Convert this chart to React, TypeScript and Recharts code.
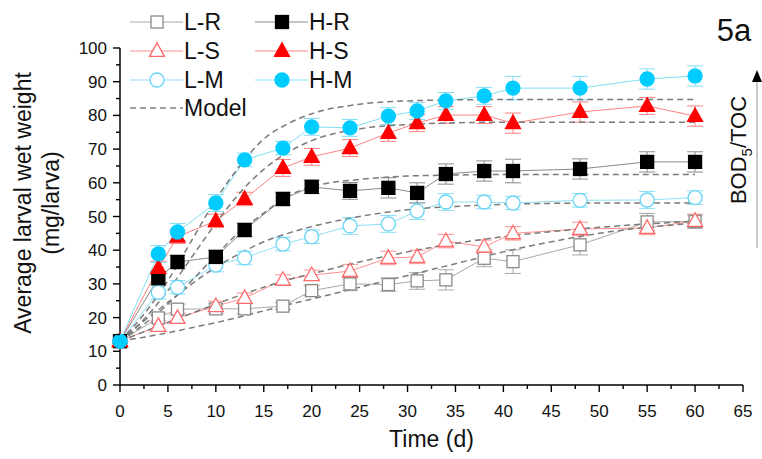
import React from 'react';
import { LineChart, Line, XAxis, YAxis, ErrorBar } from 'recharts';

// sampling days
const days = [0, 4, 6, 10, 13, 17, 20, 24, 28, 31, 34, 38, 41, 48, 55, 60];

// mean larval wet weight (mg/larva)
const lrValues = [13, 19.9, 22.5, 22.6, 22.6, 23.4, 28, 30, 29.8, 30.9, 31.2, 37.6, 36.6, 41.6, 48.4, 48.5];
const lsValues = [13, 17.5, 19.9, 23.4, 25.8, 31.2, 32.6, 33.8, 37.7, 38, 42.7, 41, 45, 46.3, 46.6, 48.7];
const lmValues = [13, 27.5, 29, 35.6, 37.7, 41.8, 44, 47.2, 47.8, 51.6, 54.3, 54.3, 54, 54.8, 54.9, 55.6];
const hrValues = [13, 31.7, 36.5, 38, 46, 55.2, 58.8, 57.6, 58.5, 57, 62.6, 63.5, 63.5, 64.1, 66.2, 66.2];
const hsValues = [13, 34.7, 44, 48.7, 55.2, 64.4, 67.7, 70.3, 74.8, 77.7, 80.1, 80.1, 77.7, 81, 82.8, 79.8];
const hmValues = [13, 38.9, 45.4, 54, 66.8, 70.3, 76.6, 76.3, 79.8, 81.3, 84.3, 85.8, 88.1, 88.1, 90.8, 91.7];

// standard deviations
const lrErr = [0.5, 1.5, 1.5, 1.5, 1.5, 1, 1.5, 2, 2, 2.5, 3, 2.5, 3.5, 3, 2.5, 2];
const lsErr = [0.5, 1.5, 1.5, 1.5, 1.5, 1.5, 1.5, 2, 2, 2, 2, 2, 2, 2, 2, 2];
const lmErr = [0.5, 2, 2, 2, 2, 2, 2, 2.5, 2.5, 2.5, 2.5, 2, 2, 2, 2.5, 2];
const hrErr = [0.5, 2, 2, 2, 2, 2, 2, 2.5, 3, 3, 3, 3, 3.5, 3, 3, 3];
const hsErr = [0.5, 2, 2, 2, 2, 2.5, 2.5, 2.5, 2.5, 2.5, 2.5, 2.5, 3, 3, 2.5, 3];
const hmErr = [0.5, 2.5, 2.5, 2.5, 2, 2, 2.5, 2.5, 2.5, 2.5, 2.5, 2.5, 3.5, 3.5, 3, 3];

// fitted growth model curves
const modelDays = [0, 2.5, 5, 7.5, 10, 12.5, 15, 17.5, 20, 25, 30, 35, 40, 45, 50, 55, 60];
const hmModel = [13, 21, 31, 43, 55, 65, 73, 77.5, 80.5, 83.3, 84.3, 84.6, 84.7, 84.7, 84.7, 84.7, 84.7];
const hsModel = [13, 19.5, 28, 38, 48, 57, 64, 69, 72.5, 76, 77.3, 77.8, 78, 78, 78, 78, 78];
const hrModel = [13, 18, 24, 31, 38.5, 45.5, 51, 56, 58.8, 61, 62, 62.3, 62.5, 62.5, 62.5, 62.5, 62.5];
const lmModel = [13, 19, 24.5, 30, 35, 39, 42.5, 45, 47, 50, 52, 53, 53.6, 53.9, 54, 54, 54];
const lsModel = [13, 15.8, 18.5, 21.3, 24, 26.6, 29, 31.2, 33, 36.5, 39.5, 42, 44, 45.5, 46.8, 47.8, 48.6];
const lrModel = [13, 14.2, 15.5, 17, 18.5, 20.2, 22, 23.8, 25.5, 29, 32.5, 36, 39.5, 42.5, 45, 46.8, 48];

const xTicks = Array.from({ length: 27 }, (_, i) => i * 2.5);
const yTicks = Array.from({ length: 21 }, (_, i) => i * 5);

const W = 762;
const H = 459;
const Y_AXIS_W = 60;
const MARGIN = { top: 48, right: 19, bottom: 34, left: 60 };
const PLOT_LEFT = MARGIN.left + Y_AXIS_W;
const PLOT_BOTTOM = H - MARGIN.bottom - 40;
const FONT = '"Liberation Sans", Arial, sans-serif';

const toRows = (xs: number[], ys: number[], es?: number[]) =>
  xs.map((t, i) => ({ t, v: ys[i], e: es ? es[i] : 0 }));

type Shape = 'square' | 'triangle' | 'circle';

const Marker = ({ shape, x, y, stroke, fill, s }: { shape: Shape; x: number; y: number; stroke: string; fill: string; s: number }) => {
  if (shape === 'square')
    return <rect x={x - s / 2} y={y - s / 2} width={s} height={s} fill={fill} stroke={stroke} strokeWidth={1.3} />;
  if (shape === 'triangle') {
    const h = s * 0.9;
    return (
      <polygon
        points={`${x},${y - h * 0.6} ${x - s / 2},${y + h * 0.4} ${x + s / 2},${y + h * 0.4}`}
        fill={fill}
        stroke={stroke}
        strokeWidth={1.3}
      />
    );
  }
  return <circle cx={x} cy={y} r={s / 2} fill={fill} stroke={stroke} strokeWidth={1.3} />;
};

const makeDot = (shape: Shape, stroke: string, fill: string, s: number) => (props: any) => {
  const { cx, cy, index } = props;
  if (cx == null || cy == null) return <g key={`d-${index}`} />;
  return (
    <g key={`d-${index}`}>
      <Marker shape={shape} x={cx} y={cy} stroke={stroke} fill={fill} s={s} />
    </g>
  );
};

const XTick = (props: any) => {
  const { x, payload } = props;
  const v = payload.value as number;
  const major = v % 5 === 0;
  return (
    <g>
      <line x1={x} x2={x} y1={PLOT_BOTTOM} y2={PLOT_BOTTOM + (major ? 7 : 4)} stroke="#000" strokeWidth={1.4} />
      {major && (
        <text x={x} y={PLOT_BOTTOM + 32} textAnchor="middle" fontSize={17} fill="#111" fontFamily={FONT}>
          {v}
        </text>
      )}
    </g>
  );
};

const YTick = (props: any) => {
  const { y, payload } = props;
  const v = payload.value as number;
  const major = v % 10 === 0;
  return (
    <g>
      <line x1={PLOT_LEFT - (major ? 7 : 4)} x2={PLOT_LEFT} y1={y} y2={y} stroke="#000" strokeWidth={1.4} />
      {major && (
        <text x={PLOT_LEFT - 13} y={y + 6} textAnchor="end" fontSize={17} fill="#111" fontFamily={FONT}>
          {v}
        </text>
      )}
    </g>
  );
};

const series = [
  { name: 'L-R', values: lrValues, err: lrErr, shape: 'square' as Shape, stroke: '#8a8a8a', fill: '#fff', line: '#a8a8a8', s: 12 },
  { name: 'L-S', values: lsValues, err: lsErr, shape: 'triangle' as Shape, stroke: '#ff6a6a', fill: '#fff', line: '#ff8f8f', s: 15 },
  { name: 'L-M', values: lmValues, err: lmErr, shape: 'circle' as Shape, stroke: '#66d4f5', fill: '#fff', line: '#8ddff7', s: 14 },
  { name: 'H-R', values: hrValues, err: hrErr, shape: 'square' as Shape, stroke: '#000', fill: '#000', line: '#8a8a8a', s: 13 },
  { name: 'H-S', values: hsValues, err: hsErr, shape: 'triangle' as Shape, stroke: '#ff0000', fill: '#ff0000', line: '#ff8080', s: 15 },
  { name: 'H-M', values: hmValues, err: hmErr, shape: 'circle' as Shape, stroke: '#00ccff', fill: '#00ccff', line: '#80dff7', s: 14 },
];

const models = [lrModel, lsModel, lmModel, hrModel, hsModel, hmModel];

const legendRows = [22, 51, 80, 108];

const Overlay = () => (
  <svg width={W} height={H} style={{ position: 'absolute', left: 0, top: 0, pointerEvents: 'none' }} fontFamily={FONT}>
    {series.map((s, i) => {
      const col = i < 3 ? 0 : 1;
      const row = i % 3;
      const x0 = col === 0 ? 130 : 255;
      const y = legendRows[row];
      return (
        <g key={s.name}>
          <line x1={x0} x2={x0 + 53} y1={y} y2={y} stroke={s.line} strokeWidth={1} />
          <Marker shape={s.shape} x={x0 + 27} y={y} stroke={s.stroke} fill={s.fill} s={s.s} />
          <text x={x0 + 54} y={y + 8} fontSize={23} fill="#111">
            {s.name}
          </text>
        </g>
      );
    })}
    <line x1={130} x2={183} y1={legendRows[3]} y2={legendRows[3]} stroke="#808080" strokeWidth={1.5} strokeDasharray="6 4" />
    <text x={184} y={legendRows[3] + 8} fontSize={23} fill="#111">
      Model
    </text>

    <text x={734} y={41} fontSize={31} textAnchor="middle" fill="#111">
      5a
    </text>

    <line x1={757} x2={757} y1={248} y2={80} stroke="#999" strokeWidth={1} />
    <polygon points="757,70 752,82 762,82" fill="#000" />
    <text transform="translate(746,150) rotate(-90)" textAnchor="middle" fontSize={22} fill="#111">
      BOD<tspan fontSize={15} dy={6}>5</tspan>
      <tspan dy={-6}>/TOC</tspan>
    </text>

    <text transform="translate(31,203) rotate(-90)" textAnchor="middle" fontSize={23} fill="#111">
      Average larval wet weight
    </text>
    <text transform="translate(59,203) rotate(-90)" textAnchor="middle" fontSize={23} fill="#111">
      (mg/larva)
    </text>
  </svg>
);

export default function App() {
  return (
    <div style={{ position: 'absolute', left: 0, top: 0, width: W, height: H, background: '#fff', fontFamily: FONT }}>
      <LineChart width={W} height={H} margin={MARGIN}>
        <XAxis
          dataKey="t"
          type="number"
          domain={[0, 65]}
          ticks={xTicks}
          interval={0}
          tickLine={false}
          tick={<XTick />}
          height={40}
          axisLine={{ stroke: '#000', strokeWidth: 1.5 }}
          label={{ value: 'Time (d)', position: 'insideBottom', offset: -22, fontSize: 23, fill: '#111' }}
        />
        <YAxis
          type="number"
          domain={[0, 100]}
          ticks={yTicks}
          interval={0}
          tickLine={false}
          tick={<YTick />}
          width={Y_AXIS_W}
          axisLine={{ stroke: '#000', strokeWidth: 1.5 }}
        />
        {series.map((s) => (
          <Line
            key={s.name}
            data={toRows(days, s.values, s.err)}
            dataKey="v"
            type="linear"
            stroke={s.line}
            strokeWidth={1}
            dot={makeDot(s.shape, s.stroke, s.fill, s.s)}
            activeDot={false}
            isAnimationActive={false}
          >
            <ErrorBar dataKey="e" direction="y" width={8} stroke={s.line} strokeWidth={1} />
          </Line>
        ))}
        {models.map((m, i) => (
          <Line
            key={`model-${i}`}
            data={toRows(modelDays, m)}
            dataKey="v"
            type="monotone"
            stroke="#7a7a7a"
            strokeWidth={1.5}
            strokeDasharray="6 4"
            dot={false}
            activeDot={false}
            isAnimationActive={false}
          />
        ))}
      </LineChart>
      <Overlay />
    </div>
  );
}
